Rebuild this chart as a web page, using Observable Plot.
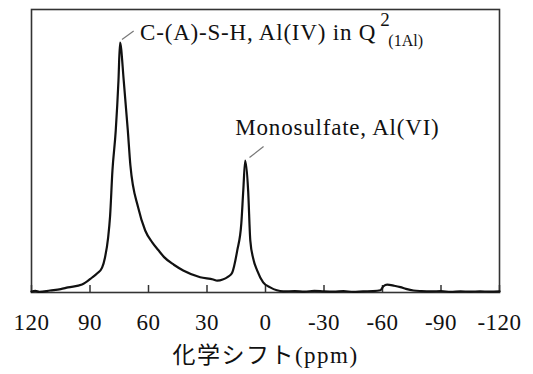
<!DOCTYPE html>
<html><head><meta charset="utf-8">
<script src="https://cdn.jsdelivr.net/npm/d3@7"></script>
<script src="https://cdn.jsdelivr.net/npm/@observablehq/plot@0.6"></script>
<style>body{margin:0;background:#fff}</style>
</head><body><div id="chart"></div>
<script>
// 27Al NMR spectrum: chemical shift (ppm) vs intensity (arbitrary units)
const ppm = [120, 118, 116, 110.5, 105, 101.3, 94.1, 88.9, 86.4, 83.8, 82.3, 80.7, 79.7, 78.5, 76.8, 75.4, 74.6, 72.7, 70.6, 69.3, 65.3, 61.7, 58.1, 55, 52, 47, 42.2, 33.5, 26.8, 24.8, 19.1, 17.1, 14.5, 12.4, 11.4, 10.4, 8.9, 7.8, 6.3, 4.3, 1.2, -2.4, -9.1, -15, -20, -25, -30, -35, -40, -45, -50, -55, -58.9, -60.5, -62.4, -66, -69.2, -72, -75.9, -80, -85, -90, -95, -100, -105, -110, -115, -120];
const intensity = [0.3, 0.6, 0.2, 0.7, 1.2, 1.8, 2.8, 5.3, 6.7, 8.8, 12.4, 19.4, 27, 43, 57.2, 74.9, 88.3, 74.9, 57.2, 45, 30, 21.9, 17.7, 15, 12.5, 9.8, 7.8, 5.4, 4.6, 4.2, 5.6, 7, 14.8, 24.4, 36, 46.6, 36, 18.4, 12, 7.8, 3.6, 1.8, 0.4, 0.5, 0.3, 0.6, 0.4, 0.3, 0.5, 0.2, 0.4, 0.5, 0.8, 2.2, 2.8, 2.4, 1.9, 1.3, 0.7, 0.5, 0.4, 0.5, 0.2, 0.4, 0.3, 0.4, 0.3, 0.4];
const xTicks = [120, 90, 60, 30, 0, -30, -60, -90, -120];
const axisTitle = "化学シフト(ppm)";

// annotations (anchored in data coordinates)
const mainLabels = ["C-(A)-S-H, Al(IV) in Q", "Monosulfate, Al(VI)"];
const mainLabelX = [64.3, 15.5];
const mainLabelY = [89.2, 55.5];
const supLabel = ["2"], supX = [-58.9], supY = [94.3];
const subLabel = ["(1Al)"], subX = [-63.0], subY = [87.0];
const leaderX1 = [73.6, 8.2], leaderY1 = [89.4, 47.7];
const leaderX2 = [67.6, 1.0], leaderY2 = [92.4, 51.6];

const spectrum = ppm.map((p, i) => ({ppm: p, v: intensity[i]}));
const idx = (a) => a.map((_, i) => i);
const serif = "Tinos";
const cjk = "Tinos, Noto Sans CJK JP";

const chart = Plot.plot({
  width: 533,
  height: 374,
  marginLeft: 31,
  marginRight: 34,
  marginTop: 9,
  marginBottom: 82,
  x: {domain: [120, -120], ticks: xTicks},
  y: {domain: [0, 100], axis: null},
  marks: [
    Plot.axisX(xTicks, {tickSize: 0, tickPadding: 21, tickFormat: d => String(d), fontSize: 23, fontFamily: serif, fill: "#111", label: null}),
    Plot.axisX(xTicks, {tickSize: -7, text: null, stroke: "#333", strokeWidth: 1.5, label: null}),
    Plot.frame({stroke: "#333", strokeWidth: 1.6}),
    Plot.line(spectrum, {x: "ppm", y: "v", stroke: "#111", strokeWidth: 2.2, curve: "monotone-x"}),
    Plot.link(idx(leaderX1), {x1: i => leaderX1[i], y1: i => leaderY1[i], x2: i => leaderX2[i], y2: i => leaderY2[i], stroke: "#777", strokeWidth: 1.2}),
    Plot.text(mainLabels, {x: (d, i) => mainLabelX[i], y: (d, i) => mainLabelY[i], text: d => d, textAnchor: "start", lineAnchor: "bottom", fontSize: 23, fontFamily: serif, fill: "#111"}),
    Plot.text(supLabel, {x: (d, i) => supX[i], y: (d, i) => supY[i], text: d => d, textAnchor: "start", lineAnchor: "bottom", fontSize: 19, fontFamily: serif, fill: "#111"}),
    Plot.text(subLabel, {x: (d, i) => subX[i], y: (d, i) => subY[i], text: d => d, textAnchor: "start", lineAnchor: "bottom", fontSize: 16, fontFamily: serif, fill: "#111"}),
    Plot.text([axisTitle], {frameAnchor: "bottom", dy: 70, lineAnchor: "bottom", text: d => d, fontSize: 23, fontFamily: cjk, fill: "#111"})
  ]
});
// serif family on every text element (inline style and attribute); slight tracking for the wide reference glyphs
const svg = d3.select(chart);
svg.attr("font-family", serif).style("font-family", serif);
svg.selectAll("text").each(function () {
  const t = this.textContent;
  const sel = d3.select(this);
  if (t === axisTitle) {
    sel.attr("font-family", cjk).style("font-family", cjk).attr("letter-spacing", "1.5px");
  } else {
    sel.attr("font-family", serif).style("font-family", serif);
    if (mainLabels.includes(t)) sel.attr("letter-spacing", "0.8px");
    else if (xTicks.map(String).includes(t)) sel.attr("letter-spacing", "0.5px");
  }
});
document.getElementById("chart").appendChild(chart);
</script>
</body></html>
